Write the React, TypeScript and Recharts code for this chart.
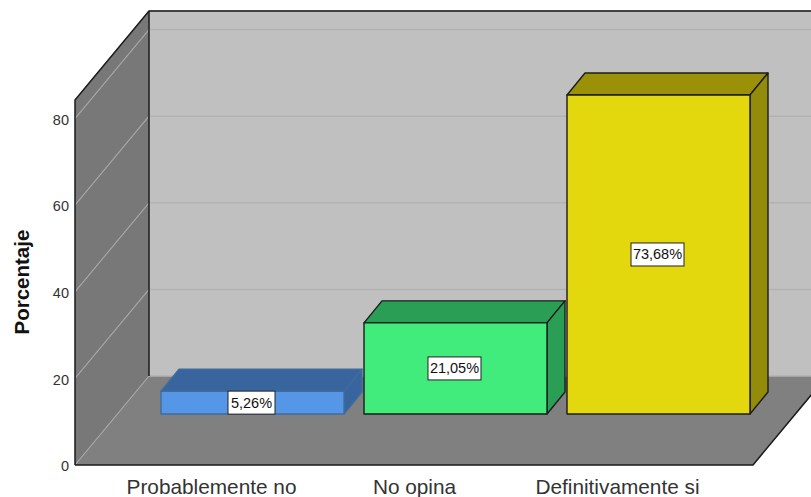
import { BarChart, Bar, XAxis, YAxis, CartesianGrid, Customized, LabelList } from "recharts";

const categories = ["Probablemente no", "No opina", "Definitivamente si"];
const porcentaje = [5.26, 21.05, 73.68];
const yTicks = [0, 20, 40, 60, 80];

const front = ["#5596e6", "#41ec7c", "#e3d80e"];
const topFace = ["#38659d", "#2b9e55", "#9a9109"];
const sideFace = ["#38659d", "#2b9e55", "#938b0a"];
const edge = ["#3f6c9f", "#1c1c1c", "#1c1c1c"];

const data = categories.map((name, i) => ({ name, value: porcentaje[i] }));

// box corners of the 3D frame
const L = 75, R = 753, T = 100, B = 465;
const DX = 74, DY = 89; // wall depth
const BX = 43, BY = 51; // bars sit this far into the floor
const SX = 18, SY = 22; // bar depth

// walls and floor go in their own svg, under the chart
function Walls() {
  return (
    <svg width={811} height={497} style={{ position: "absolute", left: 0, top: 0 }}>
      <rect x={L + DX} y={T - DY} width={R - L} height={B - T} fill="#c0c0c0" />
      <polygon points={`${L},${T} ${L + DX},${T - DY} ${L + DX},${B - DY} ${L},${B}`} fill="#787878" />
      <polygon points={`${L},${B} ${R},${B} ${R + DX},${B - DY} ${L + DX},${B - DY}`} fill="#808080" />
    </svg>
  );
}

function Frame() {
  return (
    <g fill="none" stroke="#1a1a1a" strokeWidth={1.5}>
      <polyline points={`${L},${B} ${L},${T} ${L + DX},${T - DY} ${R + DX},${T - DY}`} />
      <line x1={L + DX} y1={T - DY} x2={L + DX} y2={B - DY} />
      <polyline points={`${L},${B} ${R},${B} ${R + DX},${B - DY}`} />
    </g>
  );
}

function GridLine(props: any) {
  const { x1, x2, y1 } = props;
  return (
    <g key={props.key ?? y1}>
      <line x1={x1} y1={y1} x2={x1 + DX} y2={y1 - DY} stroke="#a8a8a8" strokeWidth={1.1} />
      <line x1={x1 + DX} y1={y1 - DY} x2={x2 + DX} y2={y1 - DY} stroke="#b2b2b2" strokeWidth={1.5} />
    </g>
  );
}

function Box3D(props: any) {
  const { x, y, width, height, index } = props;
  const l = x + BX, r = l + width, t = y - BY, b = t + height;
  const sw = 1.4;
  return (
    <g stroke={edge[index]} strokeWidth={sw} strokeLinejoin="round">
      <polygon points={`${l},${t} ${r},${t} ${r + SX},${t - SY} ${l + SX},${t - SY}`} fill={topFace[index]} />
      <polygon points={`${r},${t} ${r + SX},${t - SY} ${r + SX},${b - SY} ${r},${b}`} fill={sideFace[index]} />
      <rect x={l} y={t} width={width} height={height} fill={front[index]} />
    </g>
  );
}

function ValueLabel(props: any) {
  const { x, y, width, height, value } = props;
  const cx = x + BX + width / 2 - 1;
  const cy = y - BY + height / 2;
  const w = value > 10 ? 53 : 47;
  return (
    <g>
      <rect x={cx - w / 2} y={cy - 11.5} width={w} height={23} fill="#ffffff" stroke="#222222" strokeWidth={1} />
      <text x={cx} y={cy + 5} textAnchor="middle" fontSize={14.5} fontFamily="Liberation Sans" fill="#111111">
        {value.toFixed(2).replace(".", ",")}%
      </text>
    </g>
  );
}

export default function App() {
  return (
    <div style={{ position: "absolute", left: 0, top: 0, width: 811, height: 497, overflow: "hidden" }}>
      <Walls />
      <BarChart
        width={811}
        height={497}
        data={data}
        margin={{ top: T, right: 811 - R, bottom: 0, left: 0 }}
        barSize={183}
      >
        <CartesianGrid horizontal={GridLine} vertical={false} />
        <Customized component={Frame} />
        <XAxis
          dataKey="name"
          axisLine={false}
          tickLine={false}
          interval={0}
          height={497 - B}
          padding={{ left: 33, right: 36 }}
          tickMargin={8}
          tick={{ fontSize: 20.8, fontFamily: "Liberation Sans", fill: "#333333", dx: 2 }}
        />
        <YAxis
          domain={[0, 84.3]}
          ticks={yTicks}
          width={L}
          axisLine={false}
          tickLine={false}
          tickSize={4}
          tick={{ fontSize: 14.5, fontFamily: "Liberation Sans", fill: "#333333", dy: 1 }}
          label={{
            value: "Porcentaje",
            angle: -90,
            position: "insideLeft",
            dx: 17,
            dy: 52,
            style: { fontSize: 20.5, fontWeight: "bold", fontFamily: "Liberation Sans", fill: "#111111" },
          }}
        />
        <Bar dataKey="value" shape={Box3D} isAnimationActive={false}>
          <LabelList dataKey="value" content={ValueLabel} />
        </Bar>
      </BarChart>
    </div>
  );
}
